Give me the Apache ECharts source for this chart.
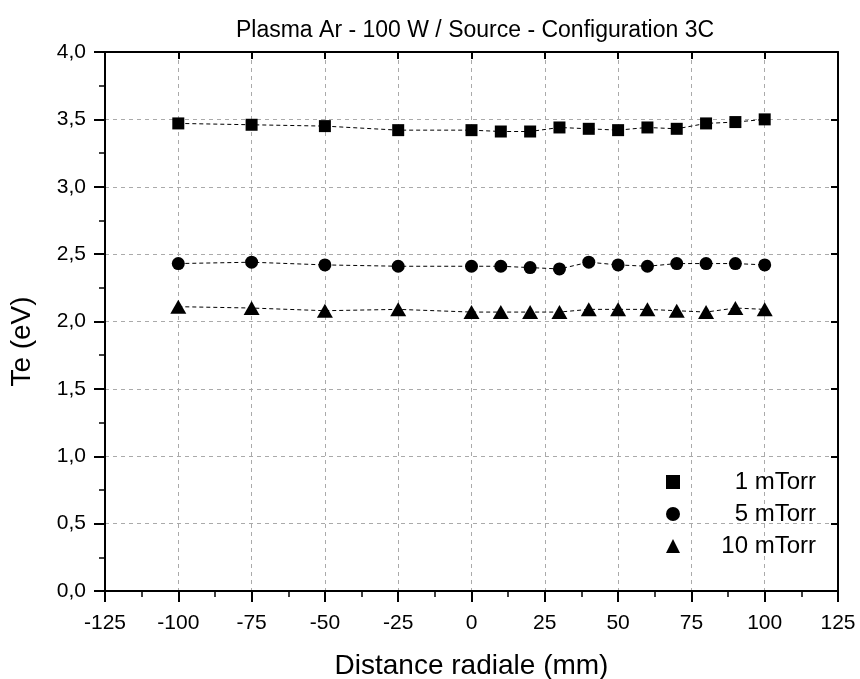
<!DOCTYPE html>
<html>
<head>
<meta charset="utf-8">
<script src="https://cdn.jsdelivr.net/npm/echarts@6/dist/echarts.min.js"></script>
<style>
  html, body { margin: 0; padding: 0; background: #fff; }
  #chart { width: 860px; height: 679px; }
</style>
</head>
<body>
<div id="chart"></div>
<script>
// distances radiales (mm)
var positions = [-100, -75, -50, -25, 0, 10, 20, 30, 40, 50, 60, 70, 80, 90, 100];
var te1mTorr = [3.47, 3.46, 3.45, 3.42, 3.42, 3.41, 3.41, 3.44, 3.43, 3.42, 3.44, 3.43, 3.47, 3.48, 3.50];
var te5mTorr = [2.43, 2.44, 2.42, 2.41, 2.41, 2.41, 2.40, 2.39, 2.44, 2.42, 2.41, 2.43, 2.43, 2.43, 2.42];
var te10mTorr = [2.11, 2.10, 2.08, 2.09, 2.07, 2.07, 2.07, 2.07, 2.09, 2.09, 2.09, 2.08, 2.07, 2.10, 2.09];
var seriesNames = ['1 mTorr', '5 mTorr', '10 mTorr'];

function pairs(ys) {
    var out = [];
    for (var i = 0; i < positions.length; i++) {
        out.push([positions[i], ys[i]]);
    }
    return out;
}

var font = 'Liberation Sans, Arial, sans-serif';
var chart = echarts.init(document.getElementById('chart'));

function makeSeries(name, ys, symbol, size) {
    return {
        name: name,
        type: 'line',
        data: pairs(ys),
        symbol: symbol,
        symbolSize: size,
        showAllSymbol: true,
        itemStyle: { color: '#000' },
        lineStyle: { color: '#000', width: 1, type: [4, 3] },
        emphasis: { disabled: true },
        z: 5
    };
}

var tickStyle = { color: '#000', width: 2 };
var minorStyle = { color: '#000', width: 1.5 };
var gridStyle = { color: '#aaa', type: [4, 4], width: 1 };

var option = {
    backgroundColor: '#fff',
    animation: false,
    title: {
        text: 'Plasma Ar - 100 W / Source - Configuration 3C',
        left: 470,
        textAlign: 'center',
        top: 14,
        textStyle: { fontFamily: font, fontWeight: 'normal', fontSize: 23, color: '#000' }
    },
    grid: { left: 105, right: 22, top: 52, bottom: 88, outerBoundsMode: 'none' },
    legend: {
        left: 661,
        top: 465,
        orient: 'vertical',
        itemGap: 8,
        itemWidth: 14,
        itemHeight: 14,
        data: [
            { name: seriesNames[0], icon: 'rect' },
            { name: seriesNames[1], icon: 'circle' },
            { name: seriesNames[2], icon: 'triangle' }
        ],
        formatter: function (name) { return '{t|' + name + '}'; },
        textStyle: {
            fontFamily: font, fontSize: 24, color: '#000',
            rich: { t: { fontFamily: font, fontSize: 24, color: '#000', width: 131, align: 'right' } }
        }
    },
    xAxis: [{
        type: 'value',
        min: -125, max: 125, interval: 25,
        name: 'Distance radiale (mm)',
        nameLocation: 'middle',
        nameGap: 61,
        nameTextStyle: { fontFamily: font, fontSize: 28, color: '#000' },
        axisLine: { onZero: false, lineStyle: tickStyle },
        axisTick: { length: 11, lineStyle: tickStyle },
        minorTick: { show: true, splitNumber: 2, length: 6, lineStyle: minorStyle },
        axisLabel: { fontFamily: font, fontSize: 21, color: '#000', margin: 22 },
        splitLine: { show: true, lineStyle: gridStyle }
    }, {
        type: 'value',
        position: 'top',
        min: -125, max: 125, interval: 25,
        axisLine: { show: true, onZero: false, lineStyle: tickStyle },
        axisTick: { inside: true, length: 7, lineStyle: tickStyle },
        minorTick: { show: false },
        axisLabel: { show: false },
        splitLine: { show: false }
    }],
    yAxis: [{
        type: 'value',
        min: 0, max: 4, interval: 0.5,
        name: 'Te (eV)',
        nameLocation: 'middle',
        nameGap: 69,
        nameTextStyle: { fontFamily: font, fontSize: 28, color: '#000', padding: [0, 40, 0, 0] },
        axisLine: { onZero: false, lineStyle: tickStyle },
        axisTick: { length: 11, lineStyle: tickStyle },
        minorTick: { show: true, splitNumber: 2, length: 6, lineStyle: minorStyle },
        axisLabel: {
            fontFamily: font, fontSize: 21, color: '#000', margin: 19,
            formatter: function (v) { return v.toFixed(1).replace('.', ','); }
        },
        splitLine: { show: true, lineStyle: gridStyle }
    }, {
        type: 'value',
        position: 'right',
        min: 0, max: 4, interval: 0.5,
        axisLine: { show: true, onZero: false, lineStyle: tickStyle },
        axisTick: { inside: true, length: 7, lineStyle: tickStyle },
        minorTick: { show: false },
        axisLabel: { show: false },
        splitLine: { show: false }
    }],
    series: [
        makeSeries(seriesNames[0], te1mTorr, 'rect', 12),
        makeSeries(seriesNames[1], te5mTorr, 'circle', 13),
        makeSeries(seriesNames[2], te10mTorr, 'triangle', [16, 14])
    ]
};
chart.setOption(option);
</script>
</body>
</html>
